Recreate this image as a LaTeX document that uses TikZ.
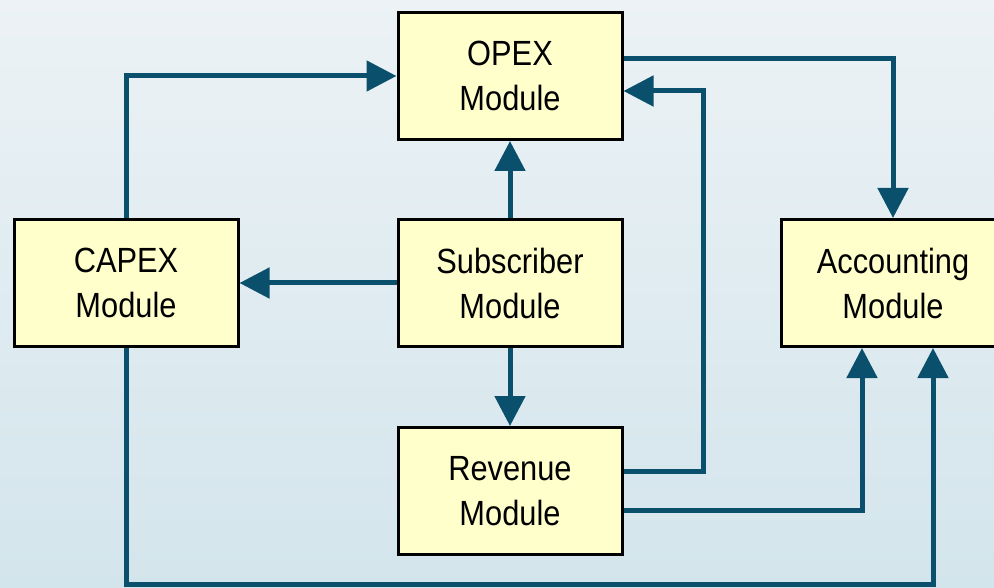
\documentclass[tikz,border=0pt]{standalone}
\usepackage{fontspec}
\setmainfont{Liberation Sans}[FakeStretch=0.88]
\usetikzlibrary{arrows.meta}
\definecolor{flow}{RGB}{10,79,108}
\definecolor{boxfill}{RGB}{255,255,204}
\definecolor{bgtop}{RGB}{236,242,245}
\definecolor{bgbottom}{RGB}{211,229,236}
\begin{document}
\begin{tikzpicture}[x=1pt,y=-1pt,
  module/.style={draw=black, line width=3pt, fill=boxfill,
    minimum width=224pt, minimum height=127pt, inner sep=0pt,
    align=center, font=\fontsize{35}{45}\selectfont},
  link/.style={draw=flow, line width=5pt,
    -{Triangle[length=30pt,width=30pt]}},
]
\useasboundingbox (0,0) rectangle (994,588);
\shade[top color=bgtop, bottom color=bgbottom] (0,0) rectangle (994,588);

\begin{scope}
\clip (0,0) rectangle (994,588);
\node[module] (opex) at (510,76)  {OPEX\\Module};
\node[module] (capex) at (126,283) {CAPEX\\Module};
\node[module] (sub)  at (510,283) {Subscriber\\Module};
\node[module] (rev)  at (510,491) {Revenue\\Module};
\node[module] (acct) at (893,283) {Accounting\\Module};
\end{scope}

% flows between modules
\draw[link] (capex.north) |- (opex.west);
\draw[link] ([yshift=17pt]opex.east) -| (acct.north);
\draw[link] ([yshift=20pt]rev.east) -- ++(80,0) |- ([yshift=-15pt]opex.east);
\draw[link] ([yshift=-19pt]rev.east) -| ([xshift=-31pt]acct.south);
\draw[link] (capex.south) -- ++(0,236) -| ([xshift=40pt]acct.south);
\draw[link] (sub.north) -- (opex.south);
\draw[link] (sub.west) -- (capex.east);
\draw[link] (sub.south) -- (rev.north);
\end{tikzpicture}
\end{document}
